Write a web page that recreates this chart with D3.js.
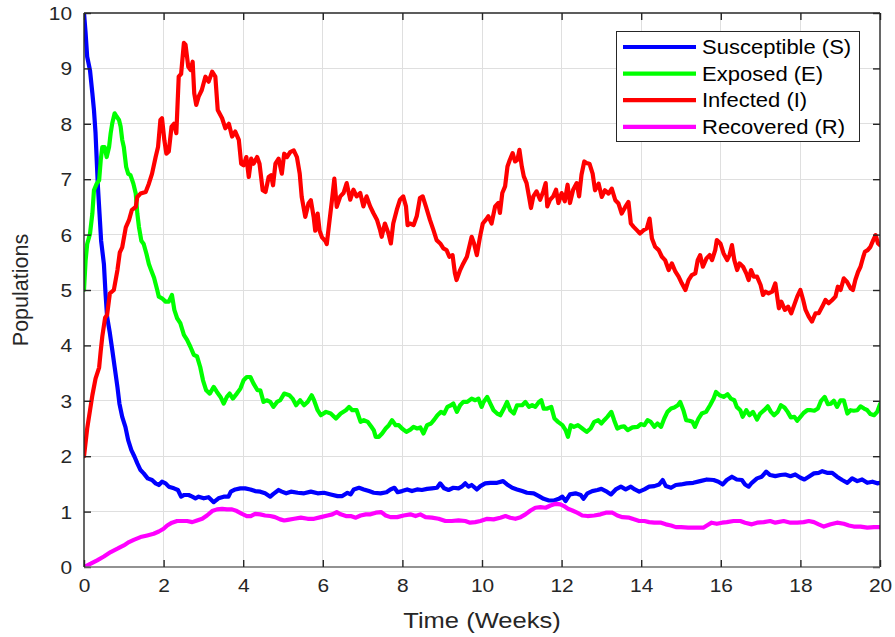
<!DOCTYPE html>
<html>
<head>
<meta charset="utf-8">
<script src="https://cdn.jsdelivr.net/npm/d3@7"></script>
<style>
  html, body { margin: 0; padding: 0; background: #fff; }
  svg { display: block; font-family: Arial, "Liberation Sans", Helvetica, sans-serif; }
</style>
</head>
<body>
<svg id="chart" width="895" height="637"></svg>
<script>
// Stochastic SEIR simulation paths, [time (weeks), population]
const susceptible = [[0,10],[0.04,9.64],[0.08,9.21],[0.15,8.97],[0.21,8.55],[0.25,8.25],[0.29,7.83],[0.32,7.34],[0.35,6.86],[0.39,6.38],[0.43,5.89],[0.5,5.47],[0.54,4.95],[0.58,4.52],[0.65,4.22],[0.71,3.92],[0.77,3.61],[0.84,3.25],[0.89,2.95],[0.96,2.71],[1.04,2.53],[1.11,2.29],[1.19,2.11],[1.27,1.99],[1.34,1.87],[1.42,1.75],[1.5,1.69],[1.6,1.6],[1.71,1.57],[1.8,1.51],[1.88,1.48],[1.96,1.54],[2.05,1.51],[2.13,1.45],[2.26,1.42],[2.36,1.39],[2.44,1.27],[2.52,1.3],[2.63,1.3],[2.72,1.27],[2.8,1.24],[2.88,1.27],[3.01,1.24],[3.13,1.26],[3.26,1.17],[3.38,1.24],[3.51,1.27],[3.63,1.27],[3.69,1.36],[3.8,1.4],[3.93,1.42],[4.05,1.42],[4.18,1.4],[4.3,1.37],[4.43,1.36],[4.55,1.33],[4.68,1.27],[4.76,1.32],[4.89,1.39],[4.97,1.36],[5.08,1.33],[5.2,1.36],[5.37,1.34],[5.53,1.33],[5.7,1.36],[5.87,1.33],[6.03,1.34],[6.2,1.31],[6.37,1.28],[6.49,1.28],[6.62,1.34],[6.7,1.31],[6.78,1.4],[6.91,1.43],[7.03,1.4],[7.16,1.37],[7.28,1.34],[7.45,1.33],[7.6,1.35],[7.7,1.4],[7.8,1.43],[7.88,1.35],[7.99,1.37],[8.12,1.4],[8.24,1.37],[8.37,1.4],[8.49,1.39],[8.62,1.41],[8.74,1.42],[8.87,1.43],[8.95,1.51],[9.05,1.42],[9.16,1.39],[9.28,1.43],[9.41,1.42],[9.49,1.45],[9.58,1.51],[9.66,1.45],[9.74,1.48],[9.87,1.4],[9.96,1.46],[10.08,1.51],[10.21,1.52],[10.38,1.52],[10.53,1.55],[10.63,1.49],[10.76,1.43],[10.88,1.4],[11.01,1.37],[11.13,1.34],[11.3,1.33],[11.43,1.28],[11.55,1.23],[11.68,1.2],[11.81,1.2],[11.93,1.23],[12.02,1.27],[12.1,1.19],[12.21,1.31],[12.35,1.33],[12.48,1.3],[12.55,1.23],[12.65,1.33],[12.77,1.37],[12.9,1.39],[13.0,1.41],[13.11,1.37],[13.24,1.31],[13.36,1.4],[13.49,1.45],[13.61,1.4],[13.74,1.45],[13.84,1.4],[13.95,1.36],[14.08,1.4],[14.2,1.45],[14.33,1.46],[14.45,1.49],[14.54,1.57],[14.62,1.46],[14.75,1.43],[14.87,1.48],[15.0,1.49],[15.14,1.51],[15.31,1.52],[15.48,1.55],[15.65,1.58],[15.82,1.57],[15.94,1.54],[16.05,1.49],[16.15,1.57],[16.28,1.63],[16.4,1.58],[16.53,1.57],[16.61,1.49],[16.7,1.45],[16.78,1.52],[16.91,1.6],[17.03,1.63],[17.14,1.72],[17.24,1.66],[17.37,1.64],[17.5,1.66],[17.62,1.67],[17.75,1.64],[17.87,1.67],[18.0,1.61],[18.1,1.58],[18.21,1.63],[18.34,1.69],[18.46,1.7],[18.55,1.73],[18.67,1.7],[18.8,1.7],[18.92,1.63],[19.05,1.57],[19.18,1.52],[19.3,1.6],[19.43,1.55],[19.55,1.58],[19.68,1.52],[19.81,1.54],[19.93,1.51],[20,1.52]];

const exposed = [[0,5.0],[0.04,5.53],[0.08,5.83],[0.15,6.01],[0.21,6.38],[0.25,6.8],[0.32,6.92],[0.38,6.98],[0.42,7.34],[0.46,7.58],[0.52,7.58],[0.57,7.4],[0.63,7.58],[0.67,7.83],[0.71,8.01],[0.77,8.19],[0.82,8.13],[0.88,8.07],[0.92,7.95],[0.96,7.71],[1.0,7.58],[1.06,7.22],[1.11,7.1],[1.17,7.07],[1.24,6.92],[1.3,6.74],[1.34,6.38],[1.38,6.14],[1.44,5.89],[1.5,5.83],[1.57,5.65],[1.63,5.47],[1.69,5.35],[1.76,5.22],[1.84,5.0],[1.88,4.88],[1.96,4.85],[2.05,4.79],[2.13,4.79],[2.21,4.91],[2.27,4.64],[2.34,4.49],[2.42,4.4],[2.51,4.19],[2.59,4.1],[2.67,3.98],[2.76,3.83],[2.84,3.8],[2.92,3.61],[2.99,3.37],[3.07,3.19],[3.16,3.13],[3.26,3.25],[3.34,3.16],[3.43,3.07],[3.51,2.95],[3.59,3.07],[3.66,3.13],[3.74,3.04],[3.84,3.13],[3.93,3.22],[4.01,3.37],[4.09,3.43],[4.18,3.43],[4.26,3.31],[4.36,3.19],[4.43,3.19],[4.51,2.98],[4.59,3.01],[4.68,2.98],[4.76,2.89],[4.85,2.98],[4.93,3.01],[5.03,3.13],[5.16,3.1],[5.24,3.04],[5.33,2.92],[5.43,3.01],[5.53,2.92],[5.62,2.98],[5.72,3.1],[5.78,3.01],[5.87,2.83],[5.95,2.74],[6.08,2.8],[6.2,2.77],[6.33,2.68],[6.45,2.77],[6.58,2.83],[6.66,2.89],[6.74,2.83],[6.85,2.83],[6.95,2.62],[7.03,2.65],[7.13,2.62],[7.22,2.53],[7.28,2.47],[7.33,2.35],[7.41,2.35],[7.49,2.41],[7.58,2.5],[7.66,2.56],[7.74,2.65],[7.83,2.56],[7.91,2.56],[7.99,2.5],[8.1,2.44],[8.2,2.48],[8.28,2.53],[8.37,2.5],[8.45,2.52],[8.53,2.41],[8.62,2.56],[8.72,2.59],[8.8,2.66],[8.88,2.74],[8.97,2.8],[9.05,2.77],[9.13,2.89],[9.22,2.92],[9.28,2.95],[9.37,2.8],[9.45,2.92],[9.53,2.98],[9.63,2.98],[9.74,3.04],[9.83,3.01],[9.91,3.04],[9.99,2.89],[10.04,2.98],[10.13,3.07],[10.21,2.95],[10.29,2.83],[10.38,2.77],[10.46,2.74],[10.55,2.86],[10.63,2.98],[10.71,2.83],[10.8,2.77],[10.88,2.92],[11.01,2.92],[11.09,2.98],[11.18,2.89],[11.26,2.92],[11.34,2.89],[11.43,2.98],[11.49,3.01],[11.55,2.86],[11.64,2.86],[11.74,2.89],[11.82,2.68],[11.91,2.62],[12.02,2.56],[12.1,2.47],[12.16,2.35],[12.23,2.56],[12.31,2.53],[12.41,2.56],[12.52,2.5],[12.63,2.44],[12.73,2.5],[12.82,2.62],[12.92,2.65],[13.0,2.59],[13.07,2.65],[13.15,2.71],[13.25,2.8],[13.32,2.65],[13.4,2.5],[13.49,2.53],[13.57,2.54],[13.66,2.47],[13.78,2.52],[13.91,2.53],[13.99,2.58],[14.08,2.56],[14.16,2.65],[14.24,2.62],[14.33,2.53],[14.41,2.59],[14.5,2.53],[14.58,2.68],[14.66,2.8],[14.75,2.86],[14.83,2.88],[14.92,2.92],[14.98,2.98],[15.06,2.83],[15.13,2.65],[15.21,2.64],[15.29,2.62],[15.35,2.53],[15.44,2.68],[15.52,2.77],[15.63,2.8],[15.73,2.92],[15.82,3.04],[15.88,3.16],[15.97,3.1],[16.07,3.07],[16.17,3.12],[16.25,3.04],[16.34,3.01],[16.4,2.89],[16.49,2.83],[16.55,2.71],[16.64,2.83],[16.72,2.74],[16.81,2.8],[16.91,2.66],[16.99,2.77],[17.09,2.83],[17.18,2.9],[17.26,2.8],[17.34,2.74],[17.43,2.8],[17.51,2.92],[17.6,2.88],[17.68,2.8],[17.76,2.7],[17.85,2.71],[17.92,2.64],[18.0,2.71],[18.08,2.78],[18.17,2.83],[18.27,2.83],[18.35,2.82],[18.44,2.86],[18.52,3.0],[18.61,3.07],[18.69,2.94],[18.77,2.95],[18.84,3.0],[18.92,2.89],[19.01,3.01],[19.09,3.01],[19.18,2.77],[19.26,2.83],[19.34,2.82],[19.43,2.83],[19.51,2.9],[19.6,2.86],[19.68,2.83],[19.76,2.76],[19.85,2.74],[19.93,2.8],[20,2.94]];

const infected = [[0,2.0],[0.08,2.5],[0.21,3.1],[0.29,3.4],[0.38,3.6],[0.42,3.9],[0.46,4.16],[0.53,4.5],[0.58,4.55],[0.65,4.94],[0.75,5.0],[0.84,5.36],[0.9,5.68],[0.96,5.77],[1.05,6.13],[1.13,6.26],[1.2,6.44],[1.3,6.5],[1.34,6.68],[1.42,6.74],[1.55,6.77],[1.63,6.92],[1.71,7.1],[1.8,7.4],[1.86,7.58],[1.92,8.07],[1.96,8.1],[2.02,7.7],[2.07,7.46],[2.13,7.5],[2.2,7.95],[2.26,8.0],[2.32,7.83],[2.38,8.85],[2.44,8.9],[2.51,9.46],[2.55,9.43],[2.62,9.03],[2.68,8.97],[2.73,9.12],[2.77,8.55],[2.82,8.34],[2.88,8.49],[2.96,8.61],[3.05,8.85],[3.13,8.76],[3.22,8.94],[3.3,8.85],[3.36,8.25],[3.47,8.1],[3.55,7.92],[3.64,8.0],[3.72,7.77],[3.8,7.86],[3.89,7.71],[3.95,7.28],[4.01,7.25],[4.08,7.4],[4.14,7.04],[4.2,7.37],[4.26,7.28],[4.35,7.4],[4.41,7.28],[4.49,6.8],[4.56,6.77],[4.64,7.04],[4.7,7.07],[4.75,6.89],[4.81,7.28],[4.89,7.37],[4.97,7.1],[5.03,7.46],[5.1,7.4],[5.18,7.49],[5.27,7.52],[5.35,7.4],[5.42,7.1],[5.47,6.68],[5.56,6.32],[5.64,6.56],[5.7,6.62],[5.77,6.32],[5.81,6.07],[5.87,6.38],[5.92,6.07],[5.98,5.95],[6.06,5.89],[6.1,5.83],[6.17,6.26],[6.23,6.62],[6.29,7.01],[6.35,6.5],[6.44,6.69],[6.52,6.75],[6.6,6.93],[6.69,6.63],[6.77,6.81],[6.85,6.69],[6.94,6.75],[7.02,6.51],[7.1,6.69],[7.19,6.51],[7.27,6.39],[7.36,6.27],[7.44,6.08],[7.48,5.96],[7.56,6.2],[7.65,6.02],[7.71,5.84],[7.77,6.2],[7.86,6.45],[7.94,6.63],[8.02,6.69],[8.09,6.51],[8.13,6.17],[8.19,6.2],[8.28,6.17],[8.36,6.33],[8.44,6.66],[8.51,6.69],[8.59,6.51],[8.69,6.27],[8.78,6.08],[8.86,5.9],[8.95,5.84],[9.03,5.75],[9.11,5.72],[9.18,5.6],[9.26,5.63],[9.32,5.3],[9.36,5.18],[9.45,5.36],[9.53,5.48],[9.62,5.6],[9.68,5.78],[9.74,5.96],[9.8,5.84],[9.87,5.63],[9.95,5.96],[10.02,6.2],[10.1,6.27],[10.16,6.33],[10.24,6.2],[10.33,6.51],[10.41,6.57],[10.45,6.39],[10.51,6.75],[10.58,6.87],[10.64,7.23],[10.7,7.35],[10.77,7.47],[10.83,7.32],[10.89,7.35],[10.94,7.53],[11.0,7.23],[11.05,7.05],[11.12,6.93],[11.18,6.69],[11.23,6.48],[11.29,6.69],[11.37,6.78],[11.46,6.63],[11.54,6.78],[11.6,6.93],[11.64,6.51],[11.71,6.63],[11.79,6.69],[11.86,6.81],[11.92,6.57],[12.0,6.75],[12.08,6.6],[12.15,6.9],[12.21,6.57],[12.29,6.81],[12.38,6.93],[12.44,6.69],[12.5,7.08],[12.57,7.32],[12.63,7.29],[12.7,7.28],[12.78,7.1],[12.84,6.8],[12.93,6.92],[13.01,6.68],[13.09,6.8],[13.18,6.74],[13.26,6.83],[13.35,6.62],[13.43,6.56],[13.51,6.38],[13.6,6.5],[13.68,6.59],[13.74,6.2],[13.81,6.14],[13.89,6.08],[13.97,6.02],[14.06,6.08],[14.14,6.11],[14.21,6.29],[14.27,5.93],[14.35,5.78],[14.44,5.72],[14.52,5.6],[14.6,5.54],[14.69,5.36],[14.77,5.48],[14.86,5.33],[14.94,5.24],[15.02,5.12],[15.11,5.0],[15.19,5.18],[15.27,5.27],[15.36,5.3],[15.42,5.54],[15.48,5.63],[15.55,5.42],[15.64,5.57],[15.72,5.63],[15.78,5.54],[15.86,5.72],[15.9,5.9],[15.99,5.84],[16.07,5.66],[16.16,5.54],[16.22,5.63],[16.28,5.81],[16.34,5.54],[16.41,5.36],[16.47,5.48],[16.56,5.42],[16.64,5.3],[16.7,5.18],[16.76,5.36],[16.83,5.24],[16.91,5.24],[17.0,5.09],[17.06,4.91],[17.12,4.97],[17.2,4.94],[17.29,4.97],[17.37,5.12],[17.46,4.67],[17.52,4.79],[17.61,4.64],[17.69,4.7],[17.77,4.58],[17.83,4.7],[17.92,4.88],[18.0,5.0],[18.07,4.82],[18.13,4.64],[18.21,4.52],[18.29,4.43],[18.38,4.58],[18.46,4.58],[18.55,4.7],[18.63,4.82],[18.71,4.76],[18.8,4.82],[18.88,4.88],[18.94,5.06],[19.01,5.0],[19.09,5.21],[19.17,5.15],[19.26,5.03],[19.32,5.0],[19.38,5.18],[19.45,5.33],[19.51,5.42],[19.58,5.6],[19.62,5.69],[19.69,5.72],[19.76,5.78],[19.83,5.9],[19.89,5.99],[19.95,5.84],[20,5.81]];

const recovered = [[0,0],[0.17,0.06],[0.33,0.12],[0.5,0.19],[0.67,0.27],[0.84,0.33],[1.0,0.39],[1.13,0.45],[1.25,0.49],[1.42,0.54],[1.59,0.57],[1.75,0.6],[1.88,0.64],[2.0,0.69],[2.09,0.75],[2.21,0.8],[2.34,0.83],[2.46,0.83],[2.59,0.83],[2.72,0.81],[2.84,0.84],[2.97,0.87],[3.09,0.93],[3.22,1.01],[3.34,1.04],[3.47,1.05],[3.59,1.04],[3.72,1.04],[3.84,1.01],[3.97,0.96],[4.09,0.92],[4.19,0.92],[4.3,0.96],[4.43,0.95],[4.55,0.93],[4.68,0.92],[4.8,0.9],[4.93,0.86],[5.03,0.84],[5.12,0.85],[5.28,0.87],[5.45,0.89],[5.62,0.87],[5.78,0.87],[5.95,0.9],[6.12,0.93],[6.24,0.95],[6.35,0.99],[6.45,0.95],[6.58,0.92],[6.7,0.92],[6.83,0.89],[6.95,0.93],[7.08,0.95],[7.2,0.95],[7.33,0.98],[7.47,0.99],[7.58,0.93],[7.7,0.9],[7.87,0.9],[8.03,0.93],[8.2,0.95],[8.33,0.92],[8.45,0.95],[8.58,0.9],[8.74,0.89],[8.91,0.87],[9.08,0.83],[9.24,0.83],[9.41,0.84],[9.58,0.83],[9.7,0.8],[9.83,0.81],[9.96,0.83],[10.13,0.87],[10.29,0.86],[10.46,0.89],[10.59,0.92],[10.71,0.89],[10.84,0.87],[10.97,0.9],[11.09,0.95],[11.22,1.02],[11.34,1.07],[11.47,1.08],[11.6,1.07],[11.72,1.11],[11.85,1.14],[11.97,1.13],[12.06,1.1],[12.16,1.05],[12.27,1.02],[12.39,0.98],[12.52,0.93],[12.65,0.92],[12.82,0.93],[12.98,0.95],[13.11,0.98],[13.28,0.98],[13.4,0.93],[13.53,0.9],[13.7,0.89],[13.82,0.86],[13.95,0.83],[14.08,0.83],[14.2,0.81],[14.33,0.8],[14.5,0.8],[14.62,0.77],[14.75,0.75],[14.87,0.72],[15.0,0.72],[15.18,0.71],[15.39,0.71],[15.56,0.71],[15.65,0.75],[15.77,0.8],[15.9,0.78],[16.03,0.8],[16.15,0.81],[16.32,0.83],[16.49,0.83],[16.61,0.8],[16.78,0.77],[16.91,0.8],[17.08,0.81],[17.24,0.83],[17.37,0.8],[17.58,0.83],[17.75,0.8],[17.92,0.8],[18.08,0.81],[18.21,0.83],[18.34,0.81],[18.46,0.77],[18.59,0.73],[18.76,0.77],[18.92,0.8],[19.09,0.78],[19.22,0.75],[19.34,0.73],[19.51,0.73],[19.68,0.71],[19.85,0.72],[20,0.72]];

const seriesNames = ["Susceptible (S)", "Exposed (E)", "Infected (I)", "Recovered (R)"];
const seriesColors = ["#0000ff", "#00ff00", "#ff0000", "#ff00ff"];
const xTicks = [0, 2, 4, 6, 8, 10, 12, 14, 16, 18, 20];
const yTicks = [0, 1, 2, 3, 4, 5, 6, 7, 8, 9, 10];
const xLabel = "Time (Weeks)";
const yLabel = "Populations";

const svg = d3.select("#chart");
const plot = { left: 84, right: 880, top: 13, bottom: 567 };
const axisColor = "#262626";
const lineWidth = 4.2;

// widen glyphs slightly (text in this figure is rendered a little broad)
function widen(sel, k) {
  sel.each(function () {
    const w = this.getComputedTextLength();
    d3.select(this).attr("textLength", w * k).attr("lengthAdjust", "spacingAndGlyphs");
  });
}

const x = d3.scaleLinear().domain([0, 20]).range([plot.left, plot.right]);
const y = d3.scaleLinear().domain([0, 10]).range([plot.bottom, plot.top]);

// grid lines
const grid = svg.append("g").attr("class", "grid")
  .attr("stroke", "#dfdfdf").attr("stroke-width", 1).attr("shape-rendering", "crispEdges");
grid.selectAll("line.gx").data(xTicks.slice(1, -1)).join("line")
  .attr("x1", d => x(d)).attr("x2", d => x(d))
  .attr("y1", plot.top).attr("y2", plot.bottom);
grid.selectAll("line.gy").data(yTicks.slice(1, -1)).join("line")
  .attr("x1", plot.left).attr("x2", plot.right)
  .attr("y1", d => y(d)).attr("y2", d => y(d));

// series lines, clipped to the axes box
svg.append("clipPath").attr("id", "plotClip").append("rect")
  .attr("x", plot.left).attr("y", plot.top)
  .attr("width", plot.right - plot.left).attr("height", plot.bottom - plot.top);

const line = d3.line().x(d => x(d[0])).y(d => y(d[1]));
const allSeries = [susceptible, exposed, infected, recovered];
svg.append("g").attr("clip-path", "url(#plotClip)")
  .selectAll("path").data(allSeries).join("path")
  .attr("d", line)
  .attr("fill", "none")
  .attr("stroke", (d, i) => seriesColors[i])
  .attr("stroke-width", lineWidth)
  .attr("stroke-linejoin", "round")
  .attr("stroke-linecap", "round");

// box axes with inward ticks on all four sides
const tickLen = 7;
const fmt = d3.format("d");
const axBottom = d3.axisBottom(x).tickValues(xTicks).tickSize(-tickLen).tickPadding(12).tickFormat(fmt);
const axTop = d3.axisTop(x).tickValues(xTicks).tickSize(-tickLen).tickFormat("");
const axLeft = d3.axisLeft(y).tickValues(yTicks).tickSize(-tickLen).tickPadding(12).tickFormat(fmt);
const axRight = d3.axisRight(y).tickValues(yTicks).tickSize(-tickLen).tickFormat("");

function styleAxis(g, color) {
  g.select(".domain").attr("stroke", color).attr("stroke-width", 1.4);
  g.selectAll(".tick line").attr("stroke", axisColor).attr("stroke-width", 1.4);
  g.selectAll(".tick text").attr("fill", axisColor).attr("font-size", 18.5)
    .attr("font-family", "Arial, 'Liberation Sans', sans-serif");
}

svg.append("g").attr("transform", `translate(0,${plot.top})`).call(axTop).call(g => styleAxis(g, axisColor))
  .select(".domain").attr("d", `M${plot.left},0H${plot.right}`);
svg.append("g").attr("transform", `translate(${plot.right},0)`).call(axRight).call(g => styleAxis(g, axisColor))
  .select(".domain").attr("d", `M0,${plot.top}V${plot.bottom}`);
const gLeft = svg.append("g").attr("transform", `translate(${plot.left},0)`).call(axLeft).call(g => styleAxis(g, axisColor));
gLeft.select(".domain").attr("d", `M0,${plot.top}V${plot.bottom}`);
const gBottom = svg.append("g").attr("transform", `translate(0,${plot.bottom})`).call(axBottom).call(g => styleAxis(g, "#6e6e6e"));
gBottom.select(".domain").attr("d", `M${plot.left},0H${plot.right}`);

gLeft.selectAll(".tick text").attr("dy", "0.35em").call(widen, 1.13);
gBottom.selectAll(".tick text").attr("dy", "0.71em").call(widen, 1.13);

// axis titles
svg.append("text")
  .attr("x", (plot.left + plot.right) / 2).attr("y", 628)
  .attr("text-anchor", "middle").attr("font-size", 22).attr("fill", axisColor)
  .text(xLabel).call(widen, 1.16);
svg.append("text")
  .attr("transform", "translate(28,290) rotate(-90)")
  .attr("text-anchor", "middle").attr("font-size", 21.5).attr("fill", axisColor)
  .text(yLabel);

// legend
const legend = svg.append("g").attr("class", "legend");
legend.append("rect")
  .attr("x", 616.5).attr("y", 31.5).attr("width", 243).attr("height", 110)
  .attr("fill", "#fff").attr("stroke", axisColor).attr("stroke-width", 1);
const rows = legend.selectAll("g.row").data(seriesNames).join("g")
  .attr("class", "row")
  .attr("transform", (d, i) => `translate(0,${47 + i * 26.6})`);
rows.append("line")
  .attr("x1", 623).attr("x2", 696).attr("y1", 0).attr("y2", 0)
  .attr("stroke", (d, i) => seriesColors[i]).attr("stroke-width", lineWidth);
rows.append("text")
  .attr("x", 702).attr("y", 0).attr("dy", "0.36em")
  .attr("font-size", 20).attr("fill", "#000")
  .text(d => d).call(widen, 1.1);
</script>
</body>
</html>
